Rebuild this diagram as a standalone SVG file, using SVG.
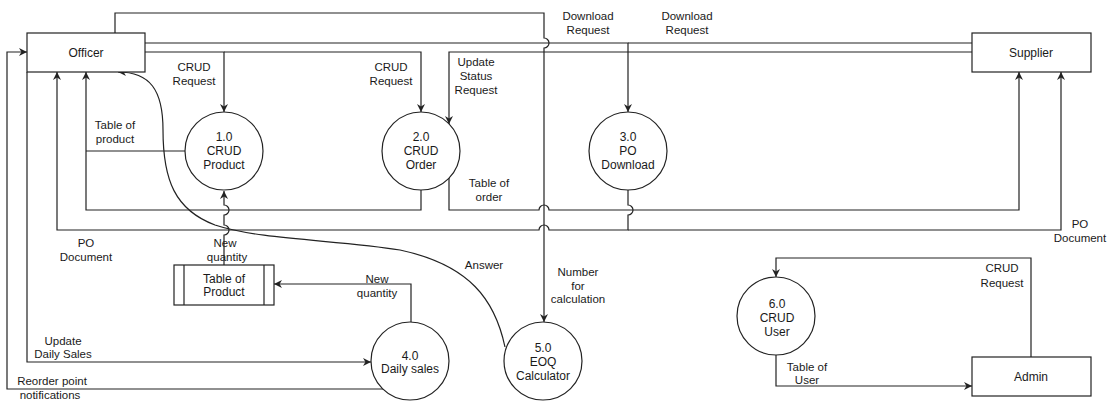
<svg xmlns="http://www.w3.org/2000/svg" width="1114" height="401" viewBox="0 0 1114 401">
<style>
.box{fill:#fff;stroke:#222;stroke-width:1.2}
.proc{fill:#fff;stroke:#222;stroke-width:1.2}
.edge{fill:none;stroke:#222;stroke-width:1.2}
.arr{marker-end:url(#ah)}
.nt{font-family:"Liberation Sans",Arial,sans-serif;font-size:12px;fill:#1a1a1a;text-anchor:middle}
.lt{font-family:"Liberation Sans",Arial,sans-serif;font-size:11.5px;fill:#1a1a1a;text-anchor:middle}
</style>
<defs>
<marker id="ah" viewBox="0 0 10 10" refX="10" refY="5" markerWidth="8" markerHeight="8" markerUnits="userSpaceOnUse" orient="auto">
<path d="M0,0 L10,5 L0,10 L3,5 z" fill="#222"/>
</marker>
</defs>
<rect width="1114" height="401" fill="#fff"/>

<g id="connectors">
<!-- Officer -> 5.0 Number for calculation -->
<path class="edge arr" d="M115,33 V13 H544 V38 A5,5 0 0 1 544,48 V322"/>
<!-- Officer -> 3.0 Download Request -->
<path class="edge arr" d="M145,43 H628 V112"/>
<!-- Supplier -> 3.0 Download Request -->
<path class="edge" d="M972,43 H628"/>
<!-- Officer -> 1.0 CRUD Request -->
<path class="edge arr" d="M145,52 H224 V112"/>
<!-- Officer -> 2.0 CRUD Request -->
<path class="edge arr" d="M224,52 H421 V112"/>
<!-- Supplier -> 2.0 Update Status Request -->
<path class="edge arr" d="M972,52 H449 V124"/>
<!-- 1.0 -> Officer Table of product -->
<path class="edge" d="M185,151 H86"/>
<!-- 2.0 -> Officer Table of order -->
<path class="edge arr" d="M421,190 V210 H86 V72"/>
<!-- 2.0 -> Supplier Table of order -->
<path class="edge arr" d="M449,178 V210 H539 A5,5 0 0 1 549,210 H1019 V72"/>
<!-- 3.0 -> Officer PO Document -->
<path class="edge arr" d="M628,190 V205 A5,5 0 0 1 628,215 V230 H549 A5,5 0 0 0 539,230 H57 V72"/>
<!-- 3.0 -> Supplier PO Document -->
<path class="edge arr" d="M628,230 H1061 V72"/>
<!-- Table of Product -> 1.0 New quantity -->
<path class="edge arr" d="M224,265 V235 A5,5 0 0 0 224,225 V215 A5,5 0 0 0 224,205 V191"/>
<!-- 4.0 -> Table of Product New quantity -->
<path class="edge arr" d="M411,322 V284 H274"/>
<!-- Officer -> 4.0 Update Daily Sales -->
<path class="edge arr" d="M27,72 V362 H371"/>
<!-- 4.0 -> Officer Reorder point notifications -->
<path class="edge arr" d="M384,389 H7 V52 H27"/>
<!-- 5.0 -> Officer Answer -->
<path class="edge arr" d="M505,347 C495,300 470,265 400,250 C340,240 260,240 215,225 C175,210 163,180 163,130 C163,90 150,72 118,72"/>
<!-- Admin -> 6.0 CRUD Request -->
<path class="edge arr" d="M1031,357 V258 H776 V277"/>
<!-- 6.0 -> Admin Table of User -->
<path class="edge arr" d="M776,355 V386 H972"/>
</g>

<g id="labels">
<text class="lt" x="194" y="71">CRUD</text><text class="lt" x="194" y="85">Request</text>
<text class="lt" x="115" y="129">Table of</text><text class="lt" x="115" y="143">product</text>
<text class="lt" x="391" y="71">CRUD</text><text class="lt" x="391" y="85">Request</text>
<text class="lt" x="476" y="66">Update</text><text class="lt" x="476" y="80">Status</text><text class="lt" x="476" y="94">Request</text>
<text class="lt" x="588" y="20">Download</text><text class="lt" x="588" y="34">Request</text>
<text class="lt" x="687" y="20">Download</text><text class="lt" x="687" y="34">Request</text>
<text class="lt" x="489" y="187">Table of</text><text class="lt" x="489" y="201">order</text>
<text class="lt" x="86" y="247">PO</text><text class="lt" x="86" y="261">Document</text>
<text class="lt" x="225" y="247">New</text><text class="lt" x="227" y="261">quantity</text>
<text class="lt" x="484" y="269">Answer</text>
<text class="lt" x="578" y="276">Number</text><text class="lt" x="578" y="290">for</text><text class="lt" x="578" y="303">calculation</text>
<text class="lt" x="377" y="283">New</text><text class="lt" x="377" y="297">quantity</text>
<text class="lt" x="63" y="345">Update</text><text class="lt" x="63" y="358">Daily Sales</text>
<text class="lt" x="52" y="385">Reorder point</text><text class="lt" x="50" y="399">notifications</text>
<text class="lt" x="1080" y="228">PO</text><text class="lt" x="1080" y="242">Document</text>
<text class="lt" x="1002" y="272">CRUD</text><text class="lt" x="1002" y="287">Request</text>
<text class="lt" x="807" y="371">Table of</text><text class="lt" x="807" y="384">User</text>
</g>

<g id="officer"><rect class="box" x="27" y="33" width="118" height="39"/><text class="nt" x="86" y="57">Officer</text></g>
<g id="supplier"><rect class="box" x="972" y="33" width="119" height="39"/><text class="nt" x="1031" y="57">Supplier</text></g>
<g id="admin"><rect class="box" x="972" y="357" width="119" height="39"/><text class="nt" x="1031" y="381">Admin</text></g>

<g id="p1"><circle class="proc" cx="224" cy="151" r="39"/><text class="nt" x="224" y="141">1.0</text><text class="nt" x="224" y="155">CRUD</text><text class="nt" x="224" y="169">Product</text></g>
<g id="p2"><circle class="proc" cx="421" cy="151" r="39"/><text class="nt" x="421" y="141">2.0</text><text class="nt" x="421" y="155">CRUD</text><text class="nt" x="421" y="169">Order</text></g>
<g id="p3"><circle class="proc" cx="628" cy="151" r="39"/><text class="nt" x="628" y="141">3.0</text><text class="nt" x="628" y="155">PO</text><text class="nt" x="628" y="169">Download</text></g>
<g id="p4"><circle class="proc" cx="410" cy="361" r="39"/><text class="nt" x="410" y="360">4.0</text><text class="nt" x="410" y="373">Daily sales</text></g>
<g id="p5"><circle class="proc" cx="543" cy="361" r="39"/><text class="nt" x="543" y="352">5.0</text><text class="nt" x="543" y="366">EOQ</text><text class="nt" x="543" y="380">Calculator</text></g>
<g id="p6"><circle class="proc" cx="776" cy="316" r="39"/><text class="nt" x="777" y="308">6.0</text><text class="nt" x="777" y="322">CRUD</text><text class="nt" x="777" y="336">User</text></g>

<g id="table-of-product"><rect class="box" x="174" y="265" width="100" height="40"/><line class="edge" x1="184" y1="265" x2="184" y2="305"/><line class="edge" x1="264" y1="265" x2="264" y2="305"/><text class="nt" x="224" y="283">Table of</text><text class="nt" x="224" y="296">Product</text></g>
</svg>
